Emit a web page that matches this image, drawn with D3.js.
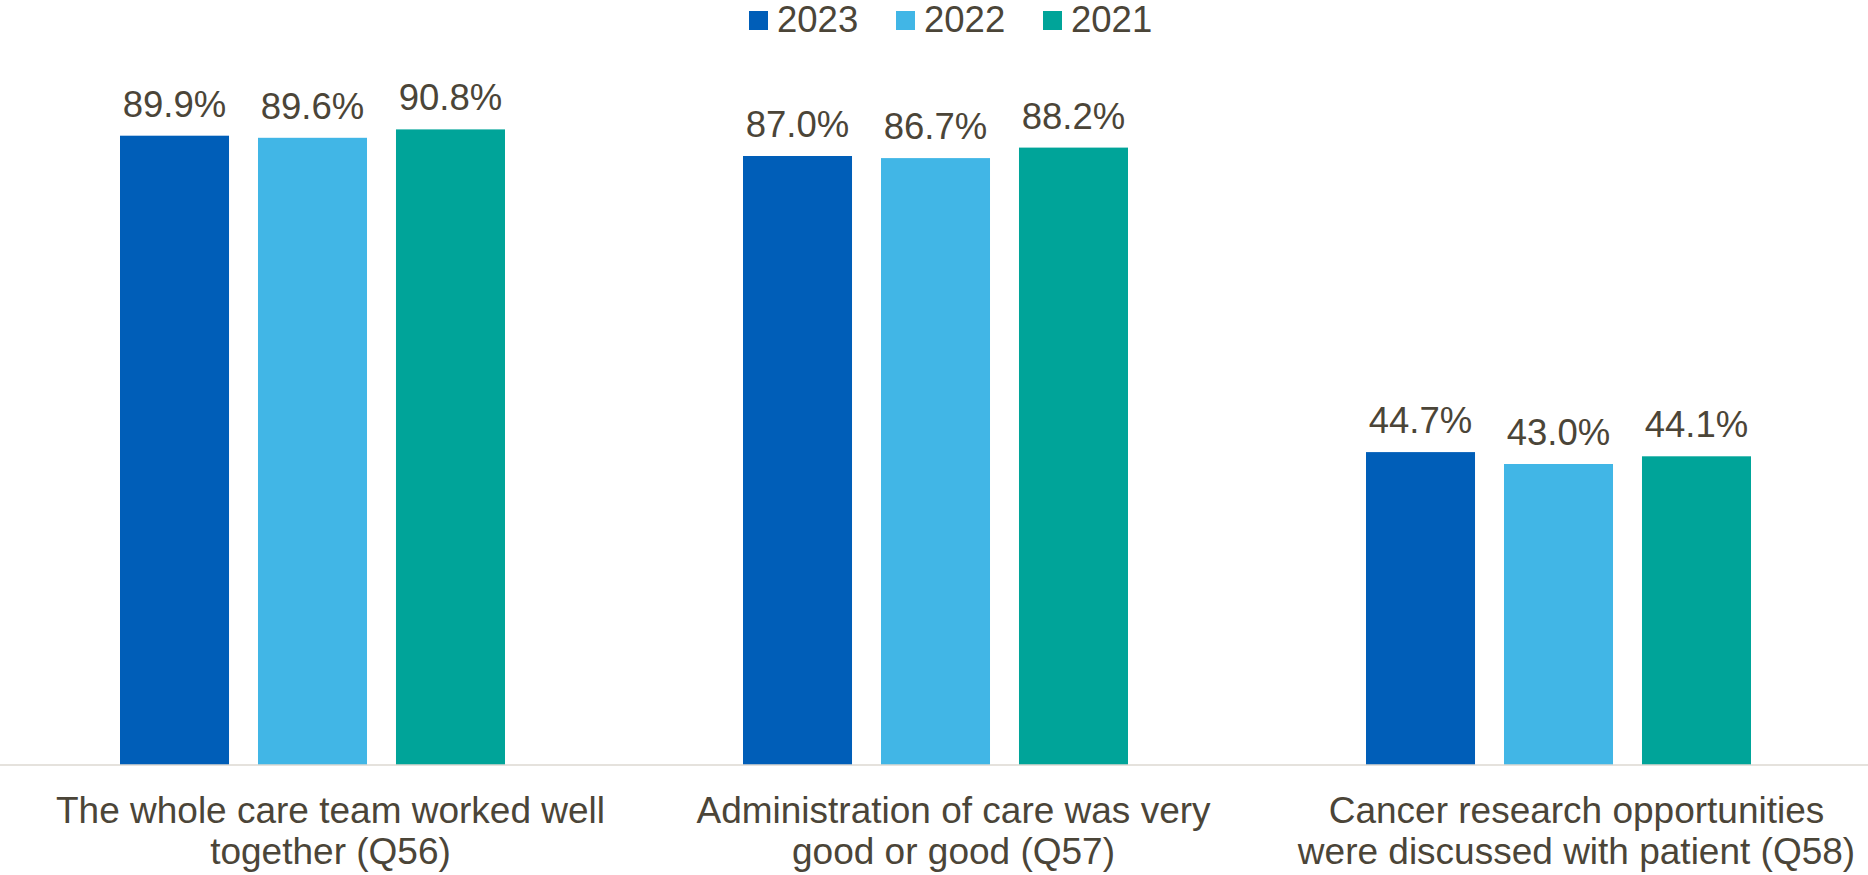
<!DOCTYPE html>
<html>
<head>
<meta charset="utf-8">
<script src="https://cdn.jsdelivr.net/npm/d3@7"></script>
<style>
  html, body { margin: 0; padding: 0; background: #ffffff; }
  svg { display: block; font-family: "Liberation Sans", Arial, sans-serif; }
</style>
</head>
<body>
<svg id="chart" width="1868" height="875"></svg>
<script>
// Survey questions (each label split into its two display lines)
const categories = ["Q56", "Q57", "Q58"];
const categoryLines = [
  ["The whole care team worked well", "together (Q56)"],
  ["Administration of care was very", "good or good (Q57)"],
  ["Cancer research opportunities", "were discussed with patient (Q58)"]
];
const seriesNames = ["2023", "2022", "2021"];
const values2023 = [89.9, 87.0, 44.7];
const values2022 = [89.6, 86.7, 43.0];
const values2021 = [90.8, 88.2, 44.1];
const seriesColors = ["#005EB8", "#41B6E6", "#00A499"];

const seriesValues = [values2023, values2022, values2021];
const textColor = "#4b4538";

const W = 1868, H = 875;
const svg = d3.select("#chart");

const x0 = d3.scaleBand().domain(categories).range([1, 1870]).padding(0);
const x1 = d3.scaleBand().domain(seriesNames)
  .range([119, 119 + 385]).paddingInner(0.21).paddingOuter(0);
const y = d3.scaleLinear().domain([0, 100]).range([765, 65]);

const color = d3.scaleOrdinal().domain(seriesNames).range(seriesColors);

// Bars
const groups = svg.append("g").selectAll("g")
  .data(categories)
  .join("g")
  .attr("transform", d => `translate(${x0(d)},0)`);

groups.selectAll("rect")
  .data((d, i) => seriesNames.map((s, k) => ({ s, v: seriesValues[k][i] })))
  .join("rect")
  .attr("x", d => x1(d.s))
  .attr("y", d => y(d.v))
  .attr("width", x1.bandwidth())
  .attr("height", d => y(0) - y(d.v))
  .attr("fill", d => color(d.s));

// Value labels
groups.selectAll("text.val")
  .data((d, i) => seriesNames.map((s, k) => ({ s, v: seriesValues[k][i] })))
  .join("text")
  .attr("class", "val")
  .attr("x", d => x1(d.s) + x1.bandwidth() / 2)
  .attr("y", d => y(d.v) - 19)
  .attr("text-anchor", "middle")
  .attr("font-size", 36.5)
  .attr("fill", textColor)
  .text(d => d.v.toFixed(1) + "%");

// Category axis baseline
const xAxis = d3.axisBottom(x0).tickSize(0).tickFormat("");
const axisG = svg.append("g")
  .attr("transform", `translate(0,${y(0)})`)
  .call(xAxis);
axisG.select(".domain")
  .attr("d", `M0,0H${W}`)
  .attr("stroke", "#dcd8d2")
  .attr("stroke-width", 1.5);

// Category labels
svg.append("g").selectAll("text")
  .data(categories)
  .join("text")
  .attr("text-anchor", "middle")
  .attr("font-size", 37)
  .attr("fill", textColor)
  .attr("transform", d => `translate(${x0(d) + x0.bandwidth() / 2 + 18},823)`)
  .selectAll("tspan")
  .data((d, i) => categoryLines[i])
  .join("tspan")
  .attr("x", 0)
  .attr("dy", (d, i) => i === 0 ? 0 : 41)
  .text(d => d);

// Legend
const legend = svg.append("g").attr("transform", "translate(749,3)");
const items = legend.selectAll("g")
  .data(seriesNames)
  .join("g")
  .attr("transform", (d, i) => `translate(${i * 147},0)`);
items.append("rect")
  .attr("x", 0).attr("y", 8)
  .attr("width", 19).attr("height", 19)
  .attr("fill", d => color(d));
items.append("text")
  .attr("x", 28).attr("y", 29)
  .attr("font-size", 36.5)
  .attr("fill", textColor)
  .text(d => d);
</script>
</body>
</html>
